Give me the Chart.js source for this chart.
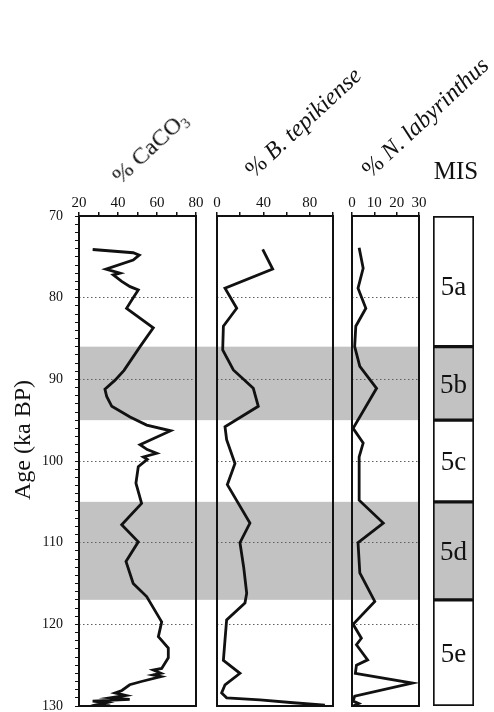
<!DOCTYPE html>
<html><head><meta charset="utf-8">
<script src="https://cdn.jsdelivr.net/npm/chart.js@4.4.1/dist/chart.umd.min.js"></script>
<style>
html,body{margin:0;padding:0;background:#fff;}
#wrap{position:relative;width:494px;height:712px;overflow:hidden;font-family:'Liberation Serif','Times New Roman',serif;color:#111;}
canvas{position:absolute;top:0;}
.t{position:absolute;white-space:nowrap;transform:translate(-50%,-50%) rotate(-43deg);font-size:24px;line-height:1;}
.t sub{font-size:60%;vertical-align:-0.25em;}
.h{position:absolute;white-space:nowrap;transform:translate(-50%,-50%);font-size:25px;line-height:1;}
.ya{position:absolute;white-space:nowrap;transform:translate(-50%,-50%) rotate(-90deg);font-size:24px;line-height:1;}
</style></head><body>
<div id="wrap">
<canvas id="cA" width="207" height="712" style="left:0px"></canvas>
<canvas id="cB" width="135" height="712" style="left:207px"></canvas>
<canvas id="cC" width="88" height="712" style="left:342px"></canvas>
<canvas id="cD" width="64" height="712" style="left:430px"></canvas>
<div class="t" style="left:150px;top:148px">% CaCO<sub>3</sub></div>
<div class="t" style="left:303px;top:122px">% <i>B. tepikiense</i></div>
<div class="t" style="left:425px;top:117px">% <i>N. labyrinthus</i></div>
<div class="h" style="left:456px;top:170px">MIS</div>
<div class="ya" style="left:22px;top:440px">Age (ka BP)</div>
</div>
<script>
// ---- data ----
const caco3Age = [74.1,74.5,74.8,75.4,76.5,77.0,77.2,78.0,78.65,79.06,80.0,81.3,83.7,86.0,88.9,90.1,91.2,92.1,93.3,94.6,95.6,96.3,98.0,98.6,99.05,99.5,99.8,100.7,102.7,105.2,107.8,109.9,112.3,115.0,116.6,119.7,121.5,122.9,124.1,125.4,125.6,126.0,126.2,126.4,127.0,127.4,128.1,128.4,128.7,129.0,129.2,129.4,129.6,129.8,130.0];
const caco3Pct = [27,47.8,50.9,47.8,33.8,41,37.6,41.9,46.2,50.4,47.8,44.4,58.1,51.3,43.1,38.5,33.3,34.2,36.8,46.2,54.7,67,51.3,55,59.8,53,55,50.4,49.2,52.1,41.9,50.4,44.1,47.8,54.7,62.4,60.7,65.8,65.8,62.4,58.1,62,58,62,52,46,42,38.5,44,36,46,27,34,30,36];

const tepiAge = [74.1,76.5,78.85,81.3,83.5,86.4,88.85,91.1,93.3,95.8,97.4,100.3,102.9,107.6,110.0,113.0,116.2,117.4,119.45,121.9,124.4,126.0,127.4,128.4,129.0,129.25,129.6,129.9];
const tepiPct = [39.4,48,6.9,17,5.5,4.9,14.1,31.3,35.6,6.9,8.3,15.5,8.9,28.4,19.8,23,25.6,24.1,8.3,6.9,5.5,19.8,6.9,4,8.3,37,65.8,93];

const labyAge = [73.9,76.4,78.85,81.3,83.5,86.0,88.4,91.1,96.0,97.8,99.5,104.8,107.6,110.0,113.7,117.2,120.0,121.7,122.5,124.35,125.0,126.0,127.2,128.8,129.4,129.7,130.0];
const labyPct = [3.2,5,2.7,6.2,1.7,1.2,3.5,11,0.5,5,3.2,3.2,14,2.7,3.5,10.2,0.5,4.2,2,7,2,1.5,27,1.2,0.5,3,0.5];

const ageTickLabels = [70,80,90,100,110,120,130];
const caco3TickLabels = [20,40,60,80];
const tepiTickLabels = [0,40,80];
const labyTickLabels = [0,10,20,30];

const misStages = ['5a','5b','5c','5d','5e'];
const misBounds = [70,86,95,105,117,130];
const shadedBands = [[86,95],[105,117]];

// ---- style ----
const INK = '#111';
const BAND = '#c2c2c2';
const GRIDC = '#606060';
Chart.defaults.font.family = "'Liberation Serif','Times New Roman',serif";
Chart.defaults.color = INK;

const bandPlugin = {
  id: 'bands',
  beforeDraw(chart, args, o) {
    const {ctx, chartArea: a} = chart;
    const y = chart.scales.y;
    const x0 = o.fromEdge ? 0 : a.left;
    const x1 = o.toEdge ? chart.width : a.right;
    ctx.save();
    ctx.fillStyle = BAND;
    shadedBands.forEach(([s, e]) => {
      const ys = y.getPixelForValue(s), ye = y.getPixelForValue(e);
      ctx.fillRect(x0, ys, x1 - x0, ye - ys);
    });
    ctx.restore();
  }
};
const boxPlugin = {
  id: 'box',
  afterDraw(chart) {
    const {ctx, chartArea: a} = chart;
    ctx.save();
    ctx.strokeStyle = INK;
    ctx.lineWidth = 2;
    ctx.strokeRect(a.left, a.top, a.right - a.left, a.bottom - a.top);
    ctx.restore();
  }
};

function gridColor(ctx) {
  const v = ctx.tick && ctx.tick.value;
  return (v % 10 === 0 && v > 70 && v < 130) ? GRIDC : 'rgba(0,0,0,0)';
}
function noLabelPad(s) {
  s.paddingTop = 0; s.paddingBottom = 0; s.paddingLeft = 0; s.paddingRight = 0;
}

function profile(id, ages, vals, xmin, xmax, xstep, xlabels, pad, first, last) {
  const pts = ages.map((a, i) => ({x: vals[i], y: a}));
  const yScale = first ? {
    type: 'linear', reverse: true, min: 70, max: 130, position: 'left',
    afterFit(s) { s.width = 60; noLabelPad(s); },
    ticks: {stepSize: 1, autoSkip: false, padding: 12, font: {size: 14}, color: INK,
      callback: v => ageTickLabels.includes(v) ? String(v) : ''},
    grid: {color: gridColor, tickColor: INK, tickLength: 4, lineWidth: 1, drawTicks: true},
    border: {display: false, dash: [1.5, 2.5]}
  } : {
    type: 'linear', reverse: true, min: 70, max: 130, position: 'left',
    afterFit(s) { s.width = 0; noLabelPad(s); },
    ticks: {stepSize: 10, display: false},
    grid: {color: gridColor, lineWidth: 1, drawTicks: false},
    border: {display: false, dash: [1.5, 2.5]}
  };
  return new Chart(document.getElementById(id), {
    type: 'line',
    data: {datasets: [{data: pts, borderColor: INK, borderWidth: 2.8, pointRadius: 0, tension: 0, fill: false}]},
    options: {
      responsive: false, animation: false, events: [],
      layout: {padding: pad, autoPadding: false},
      plugins: {legend: {display: false}, tooltip: {enabled: false},
        bands: {fromEdge: !first, toEdge: !last}},
      scales: {
        x: {type: 'linear', position: 'top', min: xmin, max: xmax,
          afterFit(s) { s.height = 30; noLabelPad(s); },
          ticks: {stepSize: xstep, autoSkip: false, padding: 0, maxRotation: 0, font: {size: 15}, color: INK,
            callback: v => xlabels.includes(v) ? String(v) : ''},
          grid: {drawOnChartArea: false, drawTicks: true, tickLength: 4, tickColor: INK, lineWidth: 1.5},
          border: {display: false}},
        y: yScale
      }
    },
    plugins: [bandPlugin, boxPlugin]
  });
}

profile('cA', caco3Age, caco3Pct, 20, 80, 10, caco3TickLabels, {top: 186, bottom: 6, left: 19, right: 11}, true, false);
profile('cB', tepiAge, tepiPct, 0, 100, 20, tepiTickLabels, {top: 186, bottom: 6, left: 10, right: 9}, false, false);
profile('cC', labyAge, labyPct, 0, 30, 10, labyTickLabels, {top: 186, bottom: 6, left: 10, right: 11}, false, true);

// MIS column
const isShaded = (s, e) => shadedBands.some(b => b[0] === s && b[1] === e);
const misLabelPlugin = {
  id: 'misLabels',
  afterDatasetsDraw(chart) {
    const ctx = chart.ctx;
    ctx.save();
    ctx.fillStyle = INK;
    ctx.font = "27px 'Liberation Serif','Times New Roman',serif";
    ctx.textAlign = 'center';
    ctx.textBaseline = 'middle';
    chart.data.datasets.forEach((ds, i) => {
      const el = chart.getDatasetMeta(i).data[0];
      const off = i === 0 ? 7 : 2;
      ctx.fillText(ds.label, el.x, (el.y + el.base) / 2 + off);
    });
    ctx.restore();
  }
};
new Chart(document.getElementById('cD'), {
  type: 'bar',
  data: {
    labels: ['MIS'],
    datasets: misStages.map((s, i) => ({
      label: s,
      data: [[misBounds[i], misBounds[i + 1]]],
      backgroundColor: isShaded(misBounds[i], misBounds[i + 1]) ? BAND : '#fff',
      borderColor: INK, borderWidth: 2, borderSkipped: false,
      grouped: false, barPercentage: 1, categoryPercentage: 1
    }))
  },
  options: {
    responsive: false, animation: false, events: [],
    layout: {padding: {top: 216, bottom: 6, left: 3, right: 20}, autoPadding: false},
    plugins: {legend: {display: false}, tooltip: {enabled: false}},
    scales: {x: {display: false}, y: {display: false, min: 70, max: 130, reverse: true}}
  },
  plugins: [misLabelPlugin]
});
</script>
</body></html>
